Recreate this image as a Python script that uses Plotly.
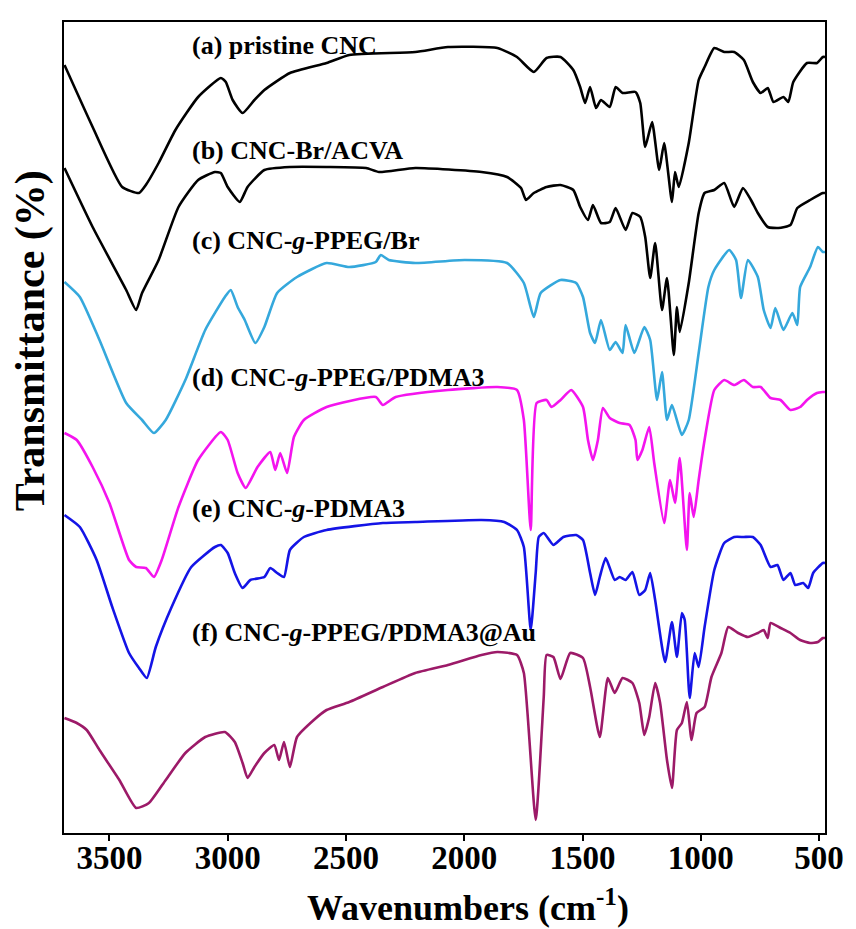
import plotly.graph_objects as go

# ---- data (wavenumber cm^-1, stacked transmittance in arbitrary units) ----
wn_a = [3690,3571,3446,3375,3346,3292,3221,3125,3029,3008,2979,2937,2887,2845,2737,2582,2486,2207,2069,1860,1777,1706,1652,1593,1539,1510,1489,1468,1443,1422,1385,1360,1331,1276,1256,1235,1206,1176,1155,1122,1109,1093,1051,1009,984,943,901,859,818,780,747,717,693,651,630,609,551,509,484,475]
t_a = [768,706,646,640,648,670,703,736,755,751,733,720,733,743,760,770,778,781,786,785,776,761,775,776,763,746,730,746,725,733,726,746,740,741,730,686,711,663,690,631,661,646,690,753,766,785,781,781,773,751,740,745,731,736,731,751,770,770,776,776]

wn_b = [3690,3571,3429,3387,3362,3292,3208,3125,3054,3029,3000,2949,2916,2845,2737,2582,2415,2360,2207,1927,1819,1760,1739,1706,1652,1593,1539,1510,1477,1456,1422,1385,1360,1318,1289,1256,1235,1214,1193,1164,1143,1114,1101,1089,1051,1009,984,943,901,859,822,788,759,717,672,621,592,538,484,475]
t_b = [665,606,543,523,540,573,626,653,661,660,646,631,646,663,666,666,665,661,665,661,656,645,633,640,646,648,643,626,613,628,610,611,625,603,620,616,596,555,590,523,555,478,526,501,550,620,640,643,650,626,645,633,620,606,605,608,625,633,640,640]

wn_c = [3690,3625,3542,3429,3362,3312,3262,3179,3095,3012,2987,2958,2928,2883,2845,2791,2707,2582,2486,2374,2353,2319,2207,1998,1819,1748,1706,1677,1593,1527,1498,1468,1447,1422,1385,1360,1331,1318,1281,1239,1214,1185,1164,1143,1122,1080,1051,1009,968,943,880,851,830,801,759,734,705,685,651,613,592,580,538,505,484,475]
t_c = [551,536,493,430,413,400,413,453,503,536,543,526,513,490,506,540,556,570,566,571,578,573,570,573,570,550,516,540,553,550,536,500,490,513,483,491,480,508,480,506,493,433,461,413,428,398,413,480,546,563,583,573,535,573,556,523,505,525,503,520,508,546,566,586,581,581]

wn_d = [3690,3638,3571,3500,3417,3387,3346,3312,3279,3208,3125,3029,3000,2958,2924,2874,2820,2799,2778,2749,2720,2678,2582,2374,2344,2290,2069,1860,1777,1748,1719,1694,1652,1631,1593,1548,1498,1477,1456,1435,1414,1385,1343,1301,1276,1268,1247,1218,1197,1155,1130,1109,1089,1059,1047,1030,1009,984,943,901,859,818,780,747,705,663,621,580,551,509,484,475]
t_d = [400,393,366,330,273,266,265,256,273,326,373,401,393,360,345,366,381,363,380,360,396,413,426,436,428,436,443,446,443,413,303,430,433,426,433,443,426,393,373,393,425,415,410,408,393,373,383,406,370,310,353,330,375,283,340,316,353,393,443,453,448,453,446,446,435,433,423,426,433,440,441,441]

wn_e = [3690,3625,3554,3488,3417,3375,3342,3304,3237,3154,3054,3029,3000,2970,2937,2904,2845,2820,2791,2762,2737,2678,2582,2344,2207,1927,1831,1777,1748,1719,1698,1685,1664,1623,1581,1527,1498,1468,1447,1427,1402,1364,1343,1318,1289,1260,1235,1214,1193,1151,1122,1101,1080,1068,1047,1026,1009,984,943,901,859,818,780,747,705,676,651,621,601,567,546,525,484,475]
t_e = [318,306,273,226,180,165,155,186,226,266,286,288,280,260,245,253,256,265,260,256,283,296,303,310,311,313,311,303,286,203,260,296,300,288,296,298,293,260,238,256,275,253,256,253,261,238,243,260,233,171,211,176,220,213,135,180,166,206,263,290,296,296,296,288,266,268,253,260,248,250,245,260,270,270]

wn_f = [3690,3638,3596,3542,3458,3387,3333,3262,3179,3095,3012,2970,2937,2916,2887,2845,2803,2783,2762,2737,2707,2636,2582,2486,2344,2207,2069,1927,1860,1777,1748,1698,1664,1652,1623,1593,1552,1498,1468,1427,1393,1364,1331,1289,1260,1239,1218,1193,1172,1143,1122,1101,1080,1059,1039,1018,984,955,913,884,842,801,759,734,717,705,663,621,580,538,505,484,475]
t_f = [115,110,103,83,53,25,30,53,80,96,101,91,70,55,66,80,88,73,91,66,96,113,123,131,146,160,168,178,181,178,160,13,136,178,176,154,180,175,146,96,155,140,155,150,130,98,116,150,130,73,45,103,110,131,93,120,126,156,180,206,200,196,200,203,195,210,205,200,193,190,191,195,195]

labels = ["(a) pristine CNC", "(b) CNC-Br/ACVA", "(c) CNC-<i>g</i>-PPEG/Br",
          "(d) CNC-<i>g</i>-PPEG/PDMA3", "(e) CNC-<i>g</i>-PDMA3",
          "(f) CNC-<i>g</i>-PPEG/PDMA3@Au"]
label_y = [788, 683, 593, 456, 325, 201]
label_x = 3158
x_ticks = [3500, 3000, 2500, 2000, 1500, 1000, 500]
x_range = [3692, 475]

colors = ["#000000", "#000000", "#35A8DC", "#F414EE", "#1414E6", "#9C1A68"]
series = [(wn_a, t_a), (wn_b, t_b), (wn_c, t_c), (wn_d, t_d), (wn_e, t_e), (wn_f, t_f)]

FONT = "Liberation Serif, Times New Roman, serif"

fig = go.Figure()
for (xs, ys), c in zip(series, colors):
    fig.add_trace(go.Scatter(x=xs, y=ys, mode="lines",
                             line=dict(color=c, width=2.6, shape="spline", smoothing=0.5),
                             showlegend=False, hoverinfo="skip"))

# invisible carrier trace for the tick-label axis
fig.add_trace(go.Scatter(x=x_ticks, y=[None] * len(x_ticks), xaxis="x2",
                         mode="lines", showlegend=False, hoverinfo="skip"))

for txt, ly in zip(labels, label_y):
    fig.add_annotation(x=label_x, y=ly, xref="x", yref="y", text="<b>" + txt + "</b>",
                       showarrow=False, xanchor="left", yanchor="middle",
                       font=dict(family=FONT, size=26, color="black"))

# axis titles
fig.add_annotation(x=-0.044, y=0.607, xref="paper", yref="paper",
                   text="<b>Transmittance (%)</b>", textangle=-90, showarrow=False,
                   xanchor="center", yanchor="middle",
                   font=dict(family=FONT, size=42, color="black"))
fig.add_annotation(x=0.531, y=-0.089, xref="paper", yref="paper",
                   text="<b>Wavenumbers (cm<sup>-1</sup>)</b>", showarrow=False,
                   xanchor="center", yanchor="middle",
                   font=dict(family=FONT, size=36, color="black"))

fig.update_layout(
    width=856, height=929,
    margin=dict(l=64, r=21, t=22, b=96),
    plot_bgcolor="white", paper_bgcolor="white",
    xaxis=dict(range=x_range, tickvals=x_ticks, showticklabels=False,
               ticks="outside", ticklen=6, tickwidth=2, tickcolor="black",
               showline=True, linewidth=2, linecolor="black", mirror=True,
               showgrid=False, zeroline=False),
    xaxis2=dict(range=x_range, overlaying="x", anchor="free", position=0,
                side="bottom", tickvals=x_ticks, ticklabelstandoff=2,
                ticktext=["<b>%d</b>" % v for v in x_ticks],
                ticks="", showline=False, showgrid=False, zeroline=False,
                tickfont=dict(family=FONT, size=33, color="black")),
    yaxis=dict(range=[0, 811], showticklabels=False, ticks="",
               showline=True, linewidth=2, linecolor="black", mirror=True,
               showgrid=False, zeroline=False),
)

fig.write_html("out.html", config={"displayModeBar": False},
               post_script="document.body.style.margin='0';")
